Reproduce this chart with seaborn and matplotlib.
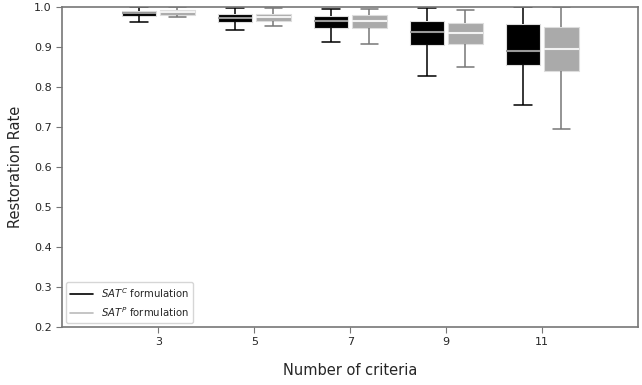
import numpy as np
import pandas as pd
import matplotlib
matplotlib.use("Agg")
import matplotlib.pyplot as plt
from matplotlib.lines import Line2D
import seaborn as sns

# values: lower whisker, q1, median, q3, upper whisker
criteria = [3, 5, 7, 9, 11]
formulations = ["SAT_C", "SAT_P"]
sat_c_stats = [
    [0.962, 0.977, 0.984, 0.991, 1.000],
    [0.942, 0.963, 0.973, 0.982, 0.998],
    [0.913, 0.948, 0.964, 0.977, 0.995],
    [0.827, 0.906, 0.937, 0.966, 0.998],
    [0.756, 0.855, 0.891, 0.957, 1.000],
]
sat_p_stats = [
    [0.974, 0.981, 0.987, 0.992, 1.000],
    [0.952, 0.966, 0.974, 0.982, 0.998],
    [0.908, 0.947, 0.966, 0.980, 0.995],
    [0.850, 0.907, 0.935, 0.959, 0.993],
    [0.695, 0.839, 0.895, 0.951, 1.000],
]
legend_labels = [r"$SAT^C$ formulation", r"$SAT^P$ formulation"]

# long form table: five values per box give exactly these quartiles
rows = []
for form, stats in zip(formulations, [sat_c_stats, sat_p_stats]):
    for n, vals in zip(criteria, stats):
        for v in vals:
            rows.append({"criteria": n, "formulation": form, "rate": v})
df = pd.DataFrame(rows)

sns.set_style("ticks")
plt.rcParams["font.family"] = ["DejaVu Sans"]

fig = plt.figure(figsize=(6.42, 3.85), dpi=100)
ax = fig.add_axes([0.097, 0.151, 0.897, 0.831])

face = {"SAT_C": "black", "SAT_P": "#aaaaaa"}
sns.boxplot(data=df, x="criteria", y="rate", hue="formulation",
            native_scale=True, dodge=True, gap=0.1, width=0.8,
            whis=(0, 100), palette=face, linewidth=1.1, legend=False, ax=ax)

line_col = {"SAT_C": "black", "SAT_P": "#777777"}
med_col = {"SAT_C": "#999999", "SAT_P": "#f2f2f2"}
for cont, form in zip(ax.containers, formulations):
    for b in cont.boxes:
        b.set_facecolor(face[form])
        b.set_edgecolor("#dddddd")
        b.set_linewidth(0.8)
    for m in cont.medians:
        m.set_color(med_col[form])
        m.set_linewidth(1.5)
    for w in cont.whiskers:
        w.set_color(line_col[form])
    for c in cont.caps:
        c.set_color(line_col[form])

ax.set_xlim(1, 13)
ax.set_ylim(0.2, 1.0)
ax.set_xticks(criteria)
ax.set_xticklabels([str(c) for c in criteria])
ax.set_yticks(np.arange(0.2, 1.01, 0.1))
ax.set_yticklabels([f"{t:.1f}" for t in np.arange(0.2, 1.01, 0.1)])
ax.tick_params(labelsize=8, length=4, color="#777777")
for s in ax.spines.values():
    s.set_visible(True)
    s.set_color("#777777")
    s.set_linewidth(1.2)

ax.set_xlabel("Number of criteria", fontsize=10.5, labelpad=11)
ax.set_ylabel("Restoration Rate", fontsize=10.5, labelpad=8)

handles = [Line2D([], [], color="black", lw=1.2),
           Line2D([], [], color="#bbbbbb", lw=1.2)]
ax.legend(handles, legend_labels, loc="lower left", fontsize=7.3,
          handlelength=2.2, borderaxespad=0.4, frameon=True)

fig.savefig("out.png", dpi=100)
